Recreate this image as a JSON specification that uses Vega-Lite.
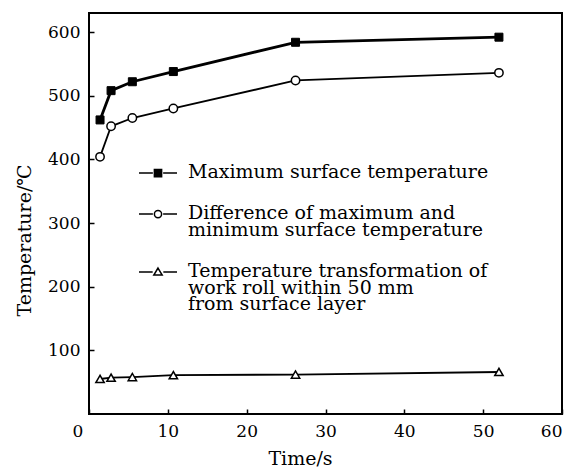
{
  "$schema": "https://vega.github.io/schema/vega-lite/v6.json",
  "width": 473,
  "height": 401,
  "autosize": "none",
  "padding": {"left": 89, "top": 13, "right": 4, "bottom": 56},
  "background": "white",
  "config": {
    "view": {"stroke": "black", "strokeWidth": 2},
    "font": "DejaVu Serif",
    "style": {"guide-label": {"lineHeight": 16.5}},
    "axis": {
      "domain": false,
      "grid": false,
      "ticks": true,
      "tickSize": -5,
      "tickColor": "black",
      "tickWidth": 1.5,
      "labelFont": "DejaVu Serif",
      "labelFontSize": 17,
      "labelColor": "black",
      "titleFont": "DejaVu Serif",
      "titleFontSize": 19,
      "titleFontWeight": "normal",
      "titleColor": "black"
    },
    "legend": {
      "labelFont": "DejaVu Serif",
      "labelFontSize": 19,
      "labelColor": "black"
    }
  },
  "data": {
    "values": [
      {"t": 1.4, "temp": 462, "series": "Maximum surface temperature"},
      {"t": 2.8, "temp": 508, "series": "Maximum surface temperature"},
      {"t": 5.5, "temp": 522, "series": "Maximum surface temperature"},
      {"t": 10.7, "temp": 538, "series": "Maximum surface temperature"},
      {"t": 26.2, "temp": 584, "series": "Maximum surface temperature"},
      {"t": 52, "temp": 592, "series": "Maximum surface temperature"},
      {"t": 1.4, "temp": 404, "series": "Difference of maximum and minimum surface temperature"},
      {"t": 2.8, "temp": 452, "series": "Difference of maximum and minimum surface temperature"},
      {"t": 5.5, "temp": 465, "series": "Difference of maximum and minimum surface temperature"},
      {"t": 10.7, "temp": 480, "series": "Difference of maximum and minimum surface temperature"},
      {"t": 26.2, "temp": 524, "series": "Difference of maximum and minimum surface temperature"},
      {"t": 52, "temp": 536, "series": "Difference of maximum and minimum surface temperature"},
      {"t": 1.4, "temp": 55, "series": "Temperature transformation of work roll within 50 mm from surface layer"},
      {"t": 2.8, "temp": 57, "series": "Temperature transformation of work roll within 50 mm from surface layer"},
      {"t": 5.5, "temp": 58, "series": "Temperature transformation of work roll within 50 mm from surface layer"},
      {"t": 10.7, "temp": 61, "series": "Temperature transformation of work roll within 50 mm from surface layer"},
      {"t": 26.2, "temp": 62, "series": "Temperature transformation of work roll within 50 mm from surface layer"},
      {"t": 52, "temp": 66, "series": "Temperature transformation of work roll within 50 mm from surface layer"}
    ]
  },
  "encoding": {
    "x": {
      "field": "t",
      "type": "quantitative",
      "scale": {"domain": [0, 60], "nice": false},
      "axis": {
        "values": [0, 10, 20, 30, 40, 50, 60],
        "title": "Time/s",
        "titleX": 211,
        "titleY": 44,
        "titleBaseline": "middle",
        "labelPadding": 14,
        "labelOffset": {"condition": {"test": "datum.value === 0", "value": -17}, "value": 0}
      }
    },
    "y": {
      "field": "temp",
      "type": "quantitative",
      "scale": {"domain": [0, 630], "nice": false},
      "axis": {
        "values": [100, 200, 300, 400, 500, 600],
        "title": "Temperature/℃",
        "titleX": -65,
        "titleY": 227,
        "titleBaseline": "middle",
        "titleAngle": 270,
        "labelPadding": 14
      }
    }
  },
  "layer": [
    {
      "transform": [{"filter": "datum.series === 'Maximum surface temperature'"}],
      "mark": {"type": "line", "color": "black", "strokeWidth": 2.8},
      "encoding": {}
    },
    {
      "transform": [{"filter": "datum.series !== 'Maximum surface temperature'"}],
      "mark": {"type": "line", "color": "black", "strokeWidth": 1.8},
      "encoding": {"detail": {"field": "series", "type": "nominal"}}
    },
    {
      "transform": [{"filter": "datum.series === 'Maximum surface temperature'"}],
      "mark": {"type": "point", "shape": "square", "filled": true, "fill": "black", "stroke": "black", "strokeWidth": 1, "opacity": 1, "size": 64},
      "encoding": {}
    },
    {
      "transform": [{"filter": "datum.series === 'Difference of maximum and minimum surface temperature'"}],
      "mark": {"type": "point", "shape": "circle", "filled": true, "fill": "white", "stroke": "black", "strokeWidth": 1.5, "opacity": 1, "size": 70},
      "encoding": {}
    },
    {
      "transform": [{"filter": "datum.series === 'Temperature transformation of work roll within 50 mm from surface layer'"}],
      "mark": {"type": "point", "shape": "triangle-up", "filled": true, "fill": "white", "stroke": "black", "strokeWidth": 1.5, "opacity": 1, "size": 70},
      "encoding": {}
    },
    {
      "mark": {"type": "point", "filled": true, "stroke": "black", "strokeWidth": 1.5, "opacity": 1, "size": 0},
      "encoding": {
        "fill": {
          "field": "series",
          "type": "nominal",
          "scale": {
            "domain": ["Maximum surface temperature", "Difference of maximum and minimum surface temperature", "Temperature transformation of work roll within 50 mm from surface layer"],
            "range": ["black", "white", "white"]
          },
          "legend": {
            "title": null,
            "orient": "none",
            "legendX": 49,
            "legendY": 145,
            "padding": 0,
            "symbolSize": 1444,
            "labelOffset": 10,
            "labelLimit": 400,
            "rowPadding": 17,
            "labelBaseline": "alphabetic",
            "labelExpr": "datum.value === 'Maximum surface temperature' ? datum.label : datum.value === 'Difference of maximum and minimum surface temperature' ? ['Difference of maximum and', 'minimum surface temperature'] : ['Temperature transformation of', 'work roll within 50 mm', 'from surface layer']"
          }
        },
        "shape": {
          "field": "series",
          "type": "nominal",
          "scale": {
            "domain": ["Maximum surface temperature", "Difference of maximum and minimum surface temperature", "Temperature transformation of work roll within 50 mm from surface layer"],
            "range": [
              "M-1,-0.26H-0.27M0.27,-0.26H1M-0.19,-0.45H0.19V-0.07H-0.19Z",
              "M-1,-0.26H-0.27M0.27,-0.26H1M0.19,-0.26A0.19,0.19,0,1,1,-0.19,-0.26A0.19,0.19,0,1,1,0.19,-0.26Z",
              "M-1,-0.26H-0.28M0.28,-0.26H1M0,-0.47L0.22,-0.1L-0.22,-0.1Z"
            ]
          },
          "legend": {
            "title": null,
            "orient": "none",
            "legendX": 49,
            "legendY": 145,
            "padding": 0,
            "symbolSize": 1444,
            "labelOffset": 10,
            "labelLimit": 400,
            "rowPadding": 17,
            "labelBaseline": "alphabetic",
            "labelExpr": "datum.value === 'Maximum surface temperature' ? datum.label : datum.value === 'Difference of maximum and minimum surface temperature' ? ['Difference of maximum and', 'minimum surface temperature'] : ['Temperature transformation of', 'work roll within 50 mm', 'from surface layer']"
          }
        }
      }
    }
  ]
}
